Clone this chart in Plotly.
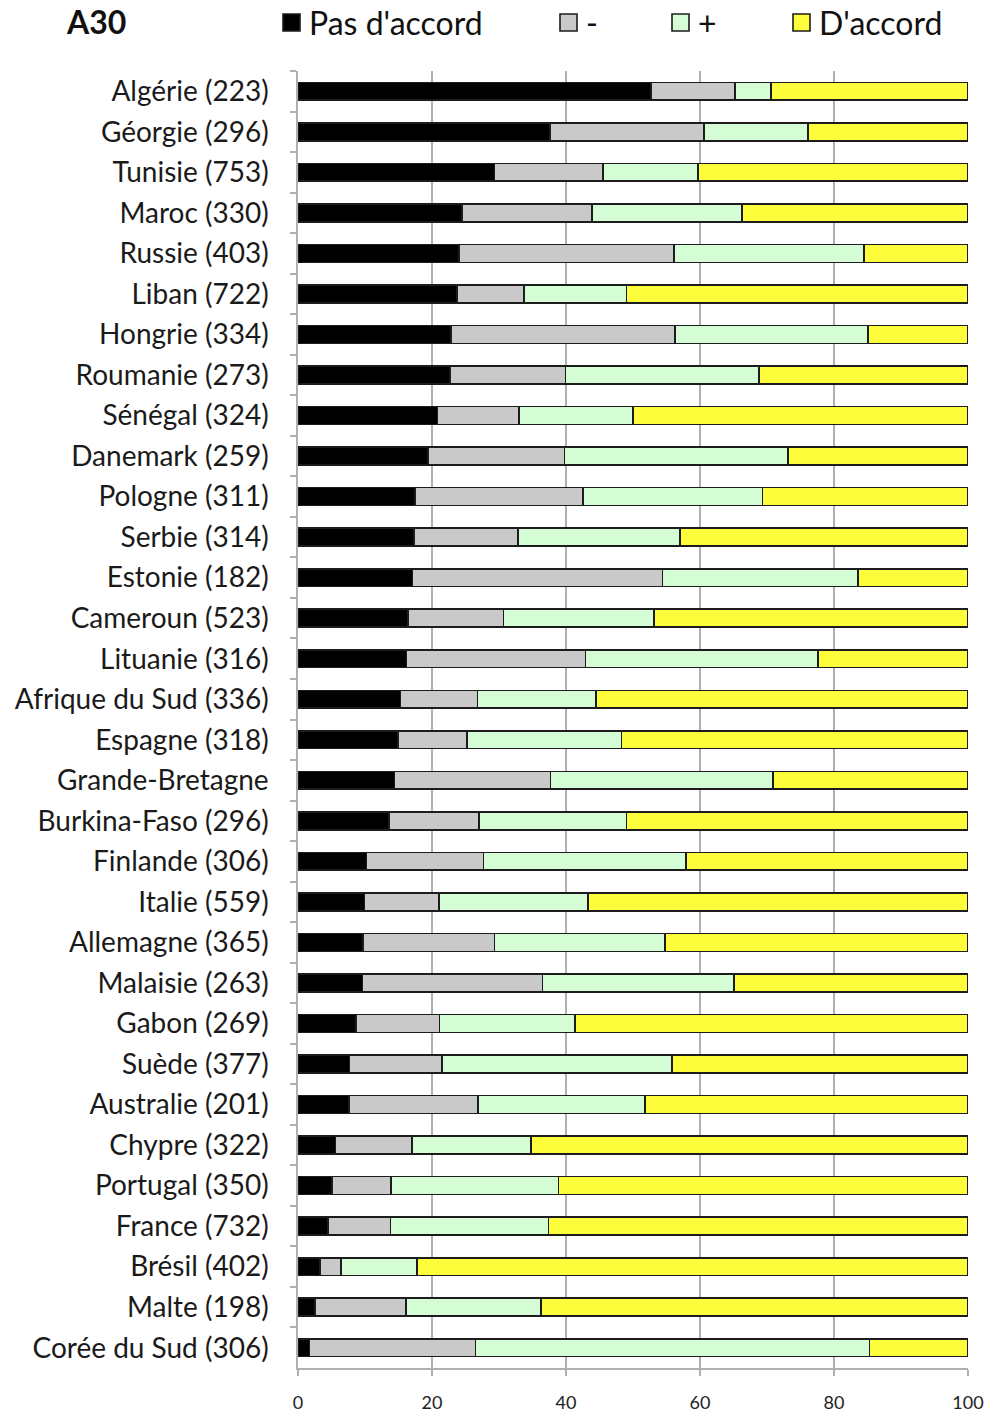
import plotly.graph_objects as go

# Survey item A30: share of answers per country (percent, rows sum to 100)
countries = [
    "Algérie (223)", "Géorgie (296)", "Tunisie (753)", "Maroc (330)", "Russie (403)",
    "Liban (722)", "Hongrie (334)", "Roumanie (273)", "Sénégal (324)", "Danemark (259)",
    "Pologne (311)", "Serbie (314)", "Estonie (182)", "Cameroun (523)", "Lituanie (316)",
    "Afrique du Sud (336)", "Espagne (318)", "Grande-Bretagne", "Burkina-Faso (296)",
    "Finlande (306)", "Italie (559)", "Allemagne (365)", "Malaisie (263)", "Gabon (269)",
    "Suède (377)", "Australie (201)", "Chypre (322)", "Portugal (350)", "France (732)",
    "Brésil (402)", "Malte (198)", "Corée du Sud (306)",
]

pas_daccord = [52.7, 37.6, 29.3, 24.5, 24.0, 23.7, 22.8, 22.7, 20.8, 19.4, 17.5, 17.3,
               17.1, 16.4, 16.2, 15.3, 14.9, 14.4, 13.6, 10.2, 9.9, 9.7, 9.6, 8.7,
               7.7, 7.6, 5.6, 5.1, 4.5, 3.3, 2.5, 1.7]
moins = [12.5, 23.0, 16.2, 19.4, 32.1, 10.0, 33.5, 17.2, 12.2, 20.4, 25.0, 15.5,
         37.3, 14.3, 26.7, 11.5, 10.3, 23.3, 13.4, 17.5, 11.1, 19.6, 26.9, 12.4,
         13.8, 19.3, 11.4, 8.8, 9.3, 3.1, 13.6, 24.8]
plus = [5.4, 15.5, 14.2, 22.4, 28.4, 15.3, 28.8, 28.9, 17.0, 33.3, 26.8, 24.2,
        29.2, 22.4, 34.7, 17.7, 23.1, 33.2, 22.0, 30.2, 22.3, 25.5, 28.6, 20.2,
        34.3, 24.9, 17.8, 25.0, 23.6, 11.4, 20.2, 58.8]
daccord = [29.4, 23.9, 40.3, 33.7, 15.5, 51.0, 14.9, 31.2, 50.0, 26.9, 30.7, 43.0,
           16.4, 46.9, 22.4, 55.5, 51.7, 29.1, 51.0, 42.1, 56.7, 45.2, 34.9, 58.7,
           44.2, 48.2, 65.2, 61.1, 62.6, 82.2, 63.7, 14.7]

series_names = ["Pas d'accord", "-", "+", "D'accord"]
series_values = [pas_daccord, moins, plus, daccord]
series_colors = ["#000000", "#c9c9c9", "#d5fdd5", "#fdfd3c"]

x_ticks = [0, 20, 40, 60, 80, 100]

FONT = "Lato"
W, H = 991, 1412
ML, MR, MT, MB = 298, 23, 71, 44

fig = go.Figure()
for name, vals, col in zip(series_names, series_values, series_colors):
    fig.add_trace(go.Bar(
        y=countries, x=vals, name=name, orientation="h",
        marker=dict(color=col, line=dict(color="#1c1c1c", width=1.6)),
        width=0.44, showlegend=False,
    ))

# legend drawn above the plot: boxes and labels placed in pixel terms
pw, ph = W - ML - MR, H - MT - MB
def px_x(p):
    return (p - ML) / pw
def px_y(p):
    return (H - MB - p) / ph

legend_box_left = [283, 560, 672, 793]
box = 17
shapes = []
annotations = []
for name, col, bx in zip(series_names, series_colors, legend_box_left):
    shapes.append(dict(type="rect", xref="paper", yref="paper",
                       x0=px_x(bx), x1=px_x(bx + box), y0=px_y(31), y1=px_y(14),
                       fillcolor=col, line=dict(color="#1c1c1c", width=1.6)))
    annotations.append(dict(xref="paper", yref="paper", x=px_x(bx + box + 7), y=px_y(23),
                            text=name, showarrow=False, xanchor="left", yanchor="middle",
                            font=dict(family=FONT, size=32, color="#111111")))

annotations.append(dict(xref="paper", yref="paper", x=px_x(64), y=px_y(0),
                        text="<b>A30</b>", showarrow=False, xanchor="left", yanchor="top",
                        font=dict(family=FONT, size=32, color="#111111")))

fig.update_layout(
    width=W, height=H,
    margin=dict(l=ML, r=MR, t=MT, b=MB, pad=0, autoexpand=False),
    barmode="stack", bargap=0.56,
    plot_bgcolor="white", paper_bgcolor="white",
    font=dict(family=FONT, color="#1a1a1a"),
    shapes=shapes, annotations=annotations,
)
fig.update_xaxes(
    range=[0, 100], tickvals=x_ticks, showgrid=True, gridcolor="#b0b0b0", gridwidth=1.5,
    showline=True, linecolor="#b0b0b0", linewidth=1.5, ticks="outside", ticklen=6,
    tickcolor="#b0b0b0", tickwidth=1.5, tickfont=dict(family=FONT, size=18, color="#222222"),
    ticklabelstandoff=12, zeroline=False, automargin=False,
)
fig.update_yaxes(
    categoryorder="array", categoryarray=countries, autorange="reversed",
    showline=True, linecolor="#b0b0b0", linewidth=1.5, ticks="outside", ticklen=6,
    tickson="boundaries", tickcolor="#b0b0b0", tickwidth=1.5, showgrid=False,
    tickfont=dict(family=FONT, size=28, color="#1a1a1a"), ticklabelstandoff=22,
    automargin=False,
)

fig.write_html("out.html")
